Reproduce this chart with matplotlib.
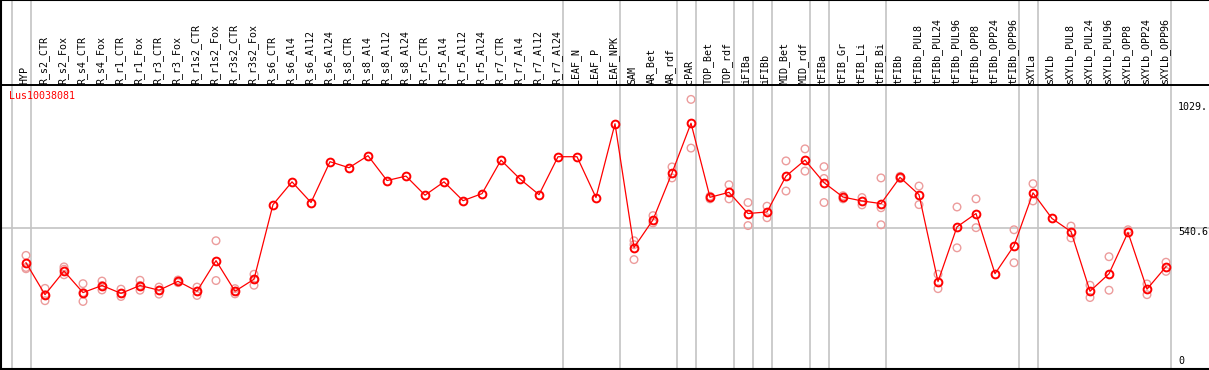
import matplotlib.pyplot as plt
import numpy as np

# ---- data ----
labels = ['HYP', 'R_s2_CTR', 'R_s2_Fox', 'R_s4_CTR', 'R_s4_Fox', 'R_r1_CTR', 'R_r1_Fox',
          'R_r3_CTR', 'R_r3_Fox', 'R_r1s2_CTR', 'R_r1s2_Fox', 'R_r3s2_CTR', 'R_r3s2_Fox',
          'R_s6_CTR', 'R_s6_Al4', 'R_s6_Al12', 'R_s6_Al24', 'R_s8_CTR', 'R_s8_Al4',
          'R_s8_Al12', 'R_s8_Al24', 'R_r5_CTR', 'R_r5_Al4', 'R_r5_Al12', 'R_r5_Al24',
          'R_r7_CTR', 'R_r7_Al4', 'R_r7_Al12', 'R_r7_Al24', 'LEAF_N', 'LEAF_P', 'LEAF_NPK',
          'SAM', 'AR_Bet', 'AR_rdf', 'cPAR', 'TOP_Bet', 'TOP_rdf', 'iFIBa', 'iFIBb',
          'MID_Bet', 'MID_rdf', 'tFIBa', 'tFIB_Gr', 'tFIB_Li', 'tFIB_Bi', 'tFIBb',
          'tFIBb_PUL8', 'tFIBb_PUL24', 'tFIBb_PUL96', 'tFIBb_OPP8', 'tFIBb_OPP24',
          'tFIBb_OPP96', 'sXYLa', 'sXYLb', 'sXYLb_PUL8', 'sXYLb_PUL24', 'sXYLb_PUL96',
          'sXYLb_OPP8', 'sXYLb_OPP24', 'sXYLb_OPP96']

means = [406, 284, 374, 292, 319, 289, 319, 301, 335, 297,
         414, 297, 343, 628, 715, 636, 792, 769, 815, 720,
         737, 664, 715, 643, 670, 798, 726, 666, 811, 811,
         655, 937, 464, 570, 749, 939, 656, 675, 594, 600,
         737, 798, 712, 657, 642, 632, 732, 666, 334, 543,
         594, 364, 471, 673, 575, 525, 297, 364, 522, 305,
         391]

# individual replicates (only the ones visible apart from the mean)
reps = [[434, 388, 383], [308, 261, 284], [390, 381, 360], [326, 258, 292], [336, 302, 319],
        [305, 277, 289], [339, 301, 319], [313, 286, 301], [340, 330], [313, 281, 297],
        [490, 338], [307, 287, 297], [362, 320, 343], [], [],
        [], [], [], [], [],
        [], [], [], [], [],
        [], [], [], [], [],
        [], [], [490, 418, 475], [586, 558], [772, 730],
        [1030, 844], [650, 660], [704, 650], [636, 548], [622, 578],
        [795, 680], [841, 756], [773, 636, 728], [650, 662], [655, 627],
        [730, 616, 551], [728, 736], [699, 628], [362, 307], [619, 463],
        [650, 540], [], [532, 406], [708, 642], [],
        [546, 501], [320, 273], [429, 301], [532], [325, 284],
        [408, 373]]

group_breaks = [-1, 0, 28, 31, 34, 35, 37, 38, 39, 41, 42, 45, 52, 53, 60]
tick_text = ['1029.', '540.6', '0']
gene = 'Lus10038081'

# ---- layout helpers (reference is 1209x370 px) ----
W, H = 1209, 370
Y_MAX = 1081.2
px = Y_MAX / 283.0          # value per pixel in the plot strip


def xcol(p):
    return (p - 26) / 19.0


def yval(p):
    return (369 - p) * px


fig = plt.figure(figsize=(W / 100, H / 100), dpi=100)
ax = fig.add_axes([1 / W, 1 / H, 1 - 1 / W, 1 - 1 / H])
ax.set_xlim(xcol(1), xcol(W))
ax.set_ylim(0, yval(0))
ax.set_xticks([])
ax.set_yticks([])
ax.spines['right'].set_visible(False)
for s in ['left', 'top', 'bottom']:
    ax.spines[s].set_linewidth(1.5)

mono = 'DejaVu Sans Mono'

# grid / separators
for b in group_breaks:
    ax.axvline(b + 0.25, color='#c4c4c4', lw=1.2, zorder=0)
ax.axhline(540.6, color='#c4c4c4', lw=1.2, zorder=0)
ax.axhline(Y_MAX + px, color='black', lw=1.4, zorder=1)

x = np.arange(len(labels))

# replicates
rx = [i for i, r in enumerate(reps) for _ in r]
ry = [v for r in reps for v in r]
ax.scatter(rx, ry, s=30, facecolors='none', edgecolors='#ec9c9c', linewidths=1.0, zorder=2)

# means
ax.plot(x, means, color='red', lw=0.9, marker='o', ms=5.6, mfc='none', mec='red', mew=1.4, zorder=3)

# column labels
for i, lab in enumerate(labels):
    ax.text(i + 0.05, yval(83.5), lab, rotation=90, rotation_mode='anchor',
            ha='left', va='baseline', fontsize=7.2, family=mono, color='black')

ax.text(xcol(9), yval(91), gene, color='red', fontsize=7.2, family=mono, ha='left', va='top')

offsets = [102, 227, 356]
for t, p in zip(tick_text, offsets):
    ax.text(xcol(1178), yval(p), t, fontsize=7.2, family=mono, ha='left', va='top')

plt.savefig('out.png', dpi=100)
